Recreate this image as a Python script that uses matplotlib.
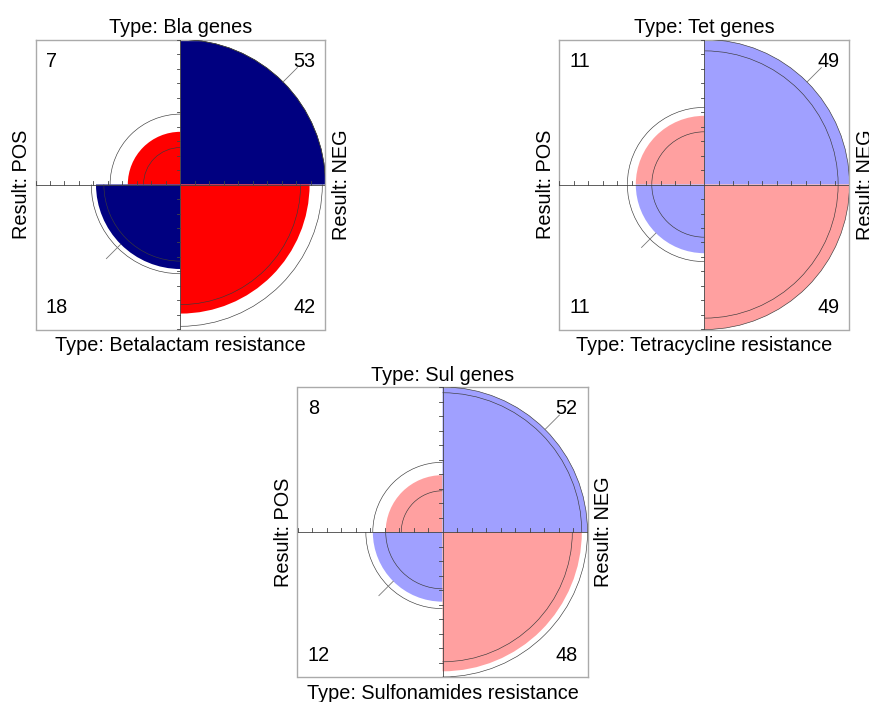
import numpy as np
import matplotlib
matplotlib.use('Agg')
import matplotlib.pyplot as plt
from matplotlib.patches import Wedge, Arc

# counts per panel, laid out as [[top-left, top-right], [bottom-left, bottom-right]]
bla = [[7, 53], [18, 42]]
tet = [[11, 49], [11, 49]]
sul = [[8, 52], [12, 48]]

top_labels = ['Type: Bla genes', 'Type: Tet genes', 'Type: Sul genes']
bottom_labels = ['Type: Betalactam resistance', 'Type: Tetracycline resistance',
                 'Type: Sulfonamides resistance']
left_label = 'Result: POS'
right_label = 'Result: NEG'

plt.rcParams['font.family'] = ['Liberation Sans', 'DejaVu Sans']

W, H = 870, 702
fig = plt.figure(figsize=(W / 100, H / 100), dpi=100)

# panel centres in pixels, half size of the box in pixels
centres = [(180.5, 184.5), (704.5, 184.5), (442.5, 532.0)]
half = 145.0


def table_with_or(tab, theta):
    # table with same margins as tab but odds ratio theta
    r1 = tab[0][0] + tab[0][1]
    r2 = tab[1][0] + tab[1][1]
    c1 = tab[0][0] + tab[1][0]
    if abs(theta - 1) < 1e-9:
        a = r1 * c1 / (r1 + r2)
    else:
        A = 1 - theta
        B = (r2 - c1) + theta * (r1 + c1)
        C = -theta * r1 * c1
        roots = np.roots([A, B, C])
        lo, hi = max(0, c1 - r2), min(r1, c1)
        a = [r.real for r in roots if lo - 1e-9 <= r.real <= hi + 1e-9][0]
    return np.array([[a, r1 - a], [c1 - a, r2 - c1 + a]])


def fourfold(ax, tab, title_top, title_bottom):
    tab = np.array(tab, dtype=float)
    theta = tab[0, 0] * tab[1, 1] / (tab[0, 1] * tab[1, 0])
    se = np.sqrt(np.sum(1 / tab))
    ci = theta * np.exp(np.array([-1, 1]) * 1.959964 * se)
    signif = ci[0] > 1 or ci[1] < 1
    if signif:
        diag_col, off_col = '#FF0000', '#000080'
    else:
        diag_col, off_col = '#FFA0A0', '#A0A0FF'

    rad = np.sqrt(tab / tab.max())
    # quadrant angles: (row, col) -> start angle
    quads = {(0, 0): 90, (0, 1): 0, (1, 0): 180, (1, 1): 270}
    for (i, j), a0 in quads.items():
        col = diag_col if i == j else off_col
        ax.add_patch(Wedge((0, 0), rad[i, j], a0, a0 + 90, facecolor=col,
                           edgecolor='none', zorder=1))

    # confidence rings
    for t in ci:
        ct = table_with_or(tab, t)
        cr = np.sqrt(ct / ct.max())
        for (i, j), a0 in quads.items():
            ax.add_patch(Arc((0, 0), 2 * cr[i, j], 2 * cr[i, j], theta1=a0,
                             theta2=a0 + 90, color='#3a3a3a', lw=0.45, zorder=3))

    # axes with ticks
    ax.plot([-1, 1], [0, 0], color='#444444', lw=0.6, zorder=4)
    ax.plot([0, 0], [-1, 1], color='#444444', lw=0.6, zorder=4)
    ticks = np.arange(-10, 11) / 10
    ticks = ticks[ticks != 0]
    for t in ticks:
        ax.plot([t, t], [0, 0.025], color='#444444', lw=0.6, zorder=4)
        ax.plot([-0.025, 0], [t, t], color='#444444', lw=0.6, zorder=4)

    # short 45 degree lines in the off-diagonal quadrants
    d = np.sqrt(0.5)
    for r, s in [(rad[0, 1], 1), (rad[1, 0], -1)]:
        ax.plot([s * r * d, s * (r + 0.14) * d], [s * r * d, s * (r + 0.14) * d],
                color='#777777', lw=0.6, zorder=4, clip_on=False)

    fs = 14.3
    ax.text(-0.93, 0.85, f'{tab[0, 0]:g}', ha='left', va='center', fontsize=fs)
    ax.text(0.93, 0.85, f'{tab[0, 1]:g}', ha='right', va='center', fontsize=fs)
    ax.text(-0.93, -0.85, f'{tab[1, 0]:g}', ha='left', va='center', fontsize=fs)
    ax.text(0.93, -0.85, f'{tab[1, 1]:g}', ha='right', va='center', fontsize=fs)

    ax.text(0, 1.015, title_top, ha='center', va='bottom', fontsize=fs)
    ax.text(0, -1.045, title_bottom, ha='center', va='top', fontsize=fs)
    ax.text(-1.03, 0, left_label, ha='right', va='center', rotation=90, fontsize=fs)
    ax.text(1.045, 0, right_label, ha='left', va='center', rotation=90, fontsize=fs)

    ax.set_xlim(-1, 1)
    ax.set_ylim(-1, 1)
    ax.set_xticks([])
    ax.set_yticks([])
    for sp in ax.spines.values():
        sp.set_color('#AAAAAA')
        sp.set_linewidth(1.0)


for (cx, cy), tab, tt, tb in zip(centres, [bla, tet, sul], top_labels, bottom_labels):
    ax = fig.add_axes([(cx - half) / W, 1 - (cy + half) / H, 2 * half / W, 2 * half / H])
    fourfold(ax, tab, tt, tb)

fig.savefig('out.png', dpi=100)
